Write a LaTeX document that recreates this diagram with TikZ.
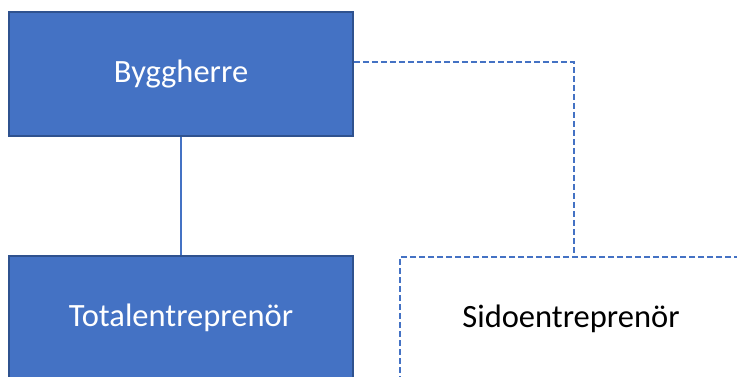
\documentclass[tikz,border=0pt]{standalone}
\usepackage{fontspec}
\setmainfont{Carlito}
\definecolor{offblue}{HTML}{4472C4}
\definecolor{offdark}{HTML}{2F528F}
\begin{document}
\begin{tikzpicture}[x=1pt,y=-1pt,
  bluebox/.style={draw=offdark,line width=1.5pt,fill=offblue,text=white,minimum width=344pt,minimum height=124pt,inner sep=0pt,font=\fontsize{32.5}{38}\selectfont},
  dashbox/.style={draw=offblue,dashed,dash pattern=on 6pt off 3pt,line width=1.5pt,fill=white,text=black,minimum width=342pt,minimum height=124pt,inner sep=0pt,font=\fontsize{32.5}{38}\selectfont},
  conn/.style={draw=offblue,line width=1.5pt}]
\useasboundingbox (0,0) rectangle (737,376);
\clip (0,0) rectangle (737,376);
\node[bluebox] (bh) at (181,74) {Byggherre};
\node[bluebox] (te) at (181,318) {Totalentreprenör};
\node[dashbox] (se) at (571,319) {Sidoentreprenör};
\coordinate (corner) at (574,62);
\draw[conn] (bh.south) -- (te.north);
\draw[conn,dashed,dash pattern=on 6pt off 3pt] (bh.east |- corner) -- (corner) -- (corner |- se.north);
\end{tikzpicture}
\end{document}
